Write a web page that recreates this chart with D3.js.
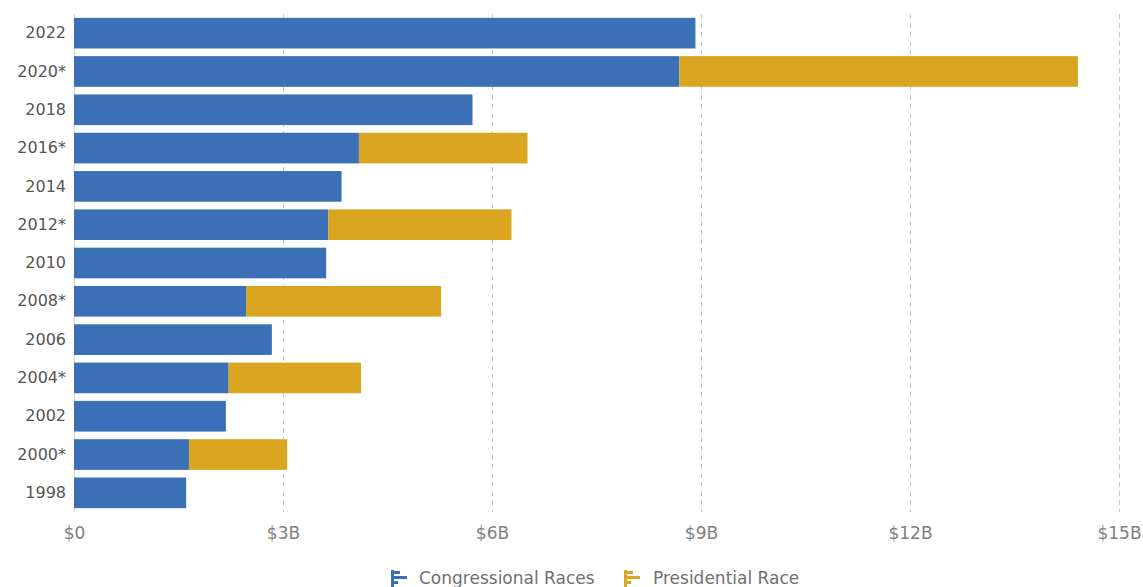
<!DOCTYPE html>
<html>
<head>
<meta charset="utf-8">
<script src="https://cdn.jsdelivr.net/npm/d3@7"></script>
<style>
  body { margin: 0; background: #fff; }
  text { font-family: "DejaVu Sans", Verdana, sans-serif; }
</style>
</head>
<body>
<div id="chart"></div>
<script>
// election cycles, newest first (* = presidential year)
var years = ["2022", "2020*", "2018", "2016*", "2014", "2012*", "2010", "2008*", "2006", "2004*", "2002", "2000*", "1998"];
// spending in billions of dollars
var congressional = [8.92, 8.69, 5.72, 4.09, 3.84, 3.65, 3.62, 2.47, 2.84, 2.22, 2.18, 1.65, 1.61];
var presidential = [0, 5.72, 0, 2.42, 0, 2.63, 0, 2.80, 0, 1.90, 0, 1.41, 0];
var seriesNames = ["Congressional Races", "Presidential Race"];
var tickValues = [0, 3, 6, 9, 12, 15];

var width = 1143, height = 587;
var margin = {top: 14, right: 24, bottom: 75, left: 74};

var color = d3.scaleOrdinal()
  .domain(seriesNames)
  .range(["#3b6fb6", "#daa520"]);

var rows = years.map(function(y, i) {
  return {year: y, "Congressional Races": congressional[i], "Presidential Race": presidential[i]};
});

var stacked = d3.stack().keys(seriesNames)(rows);

var x = d3.scaleLinear()
  .domain([0, 15])
  .range([margin.left, width - margin.right]);

var y = d3.scaleBand()
  .domain(years)
  .range([margin.top, height - margin.bottom])
  .paddingInner(0.2)
  .paddingOuter(0.1);

var svg = d3.select("#chart").append("svg")
  .attr("width", width)
  .attr("height", height);

// grid lines
svg.append("g")
  .selectAll("line")
  .data(tickValues.slice(1))
  .enter().append("line")
  .attr("x1", function(d) { return x(d) + 0.5; })
  .attr("x2", function(d) { return x(d) + 0.5; })
  .attr("y1", margin.top)
  .attr("y2", height - margin.bottom)
  .attr("stroke", "#c8c8c8")
  .attr("stroke-dasharray", "5,4");

svg.append("line")
  .attr("x1", x(0) + 0.5).attr("x2", x(0) + 0.5)
  .attr("y1", margin.top).attr("y2", height - margin.bottom)
  .attr("stroke", "#d5d5d5");

// bars
svg.append("g")
  .selectAll("g")
  .data(stacked)
  .enter().append("g")
  .attr("fill", function(d) { return color(d.key); })
  .selectAll("rect")
  .data(function(d) { return d.filter(function(p) { return p[1] > p[0]; }); })
  .enter().append("rect")
  .attr("x", function(d) { return x(d[0]); })
  .attr("width", function(d) { return x(d[1]) - x(d[0]); })
  .attr("y", function(d) { return y(d.data.year); })
  .attr("height", y.bandwidth());

// y axis labels
var yAxis = svg.append("g")
  .attr("transform", "translate(" + (margin.left - 8) + ",0)")
  .call(d3.axisLeft(y).tickSize(0).tickPadding(0));
yAxis.select(".domain").remove();
yAxis.selectAll("text")
  .attr("fill", "#555")
  .style("font-size", "16px")
  .style("font-family", "'DejaVu Sans', Verdana, sans-serif");

// x axis labels
var xAxis = svg.append("g")
  .attr("transform", "translate(0," + (height - margin.bottom) + ")")
  .call(d3.axisBottom(x).tickValues(tickValues).tickSize(0).tickPadding(15)
    .tickFormat(function(d) { return d === 0 ? "$0" : "$" + d + "B"; }));
xAxis.select(".domain").remove();
xAxis.selectAll("text")
  .attr("fill", "#808080")
  .style("font-size", "17px")
  .style("font-family", "'DejaVu Sans', Verdana, sans-serif");

// legend
var legendX = [391, 624];
var textX = [419, 653];
var legend = svg.append("g")
  .selectAll("g")
  .data(seriesNames)
  .enter().append("g")
  .attr("transform", function(d, i) { return "translate(" + legendX[i] + ",570)"; });

// little bar icon
legend.append("rect")
  .attr("x", 0).attr("y", 0).attr("width", 3).attr("height", 17)
  .attr("fill", function(d) { return color(d); });
[[0, 9], [5, 16], [10, 7]].forEach(function(b) {
  legend.append("rect")
    .attr("x", 3)
    .attr("y", b[0] + 1)
    .attr("width", b[1] - 3)
    .attr("height", 3)
    .attr("fill", function(d) { return color(d); });
});

legend.append("text")
  .attr("x", function(d, i) { return textX[i] - legendX[i]; })
  .attr("y", 8)
  .attr("dy", "0.35em")
  .attr("fill", "#707070")
  .style("font-size", "17px")
  .text(function(d) { return d; });
</script>
</body>
</html>
